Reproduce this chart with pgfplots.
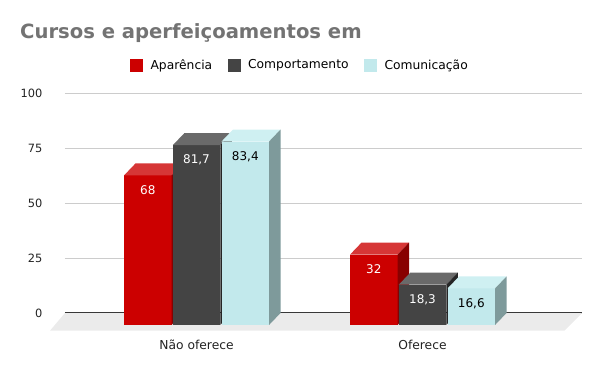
\documentclass[border=0pt]{standalone}
\usepackage{pgfplots}
\pgfplotsset{compat=1.18}
\usepackage{pgfplotstable}
\usepackage{fontspec}
\setmainfont{DejaVu Sans}

\definecolor{redF}{HTML}{CC0000}
\definecolor{redT}{HTML}{D63636}
\definecolor{redS}{HTML}{880000}
\definecolor{grayF}{HTML}{444444}
\definecolor{grayT}{HTML}{6A6A6A}
\definecolor{grayS}{HTML}{262626}
\definecolor{cyanF}{HTML}{C2E9EC}
\definecolor{cyanT}{HTML}{CFF0F2}
\definecolor{cyanS}{HTML}{7E9A9B}
\definecolor{floorgray}{HTML}{EBEBEB}
\definecolor{gridgray}{HTML}{CCCCCC}
\definecolor{titlegray}{HTML}{737373}
\definecolor{textdark}{HTML}{222222}

% #1 name, #2 x offset (pt), #3 front, #4 top, #5 side
\newcommand\defcube[5]{%
  \pgfdeclareplotmark{#1}{%
    \pgfmathsetmacro\hh{\barval*2.2}%
    \pgftransformxshift{#2pt}%
    \pgfsetfillcolor{#3}%
    \pgfpathmoveto{\pgfpoint{-23.75pt}{-12pt}}%
    \pgfpathlineto{\pgfpoint{23.75pt}{-12pt}}%
    \pgfpathlineto{\pgfpoint{23.75pt}{-12pt-\hh pt}}%
    \pgfpathlineto{\pgfpoint{-23.75pt}{-12pt-\hh pt}}%
    \pgfpathclose\pgfusepath{fill}%
    \pgfsetfillcolor{#4}%
    \pgfpathmoveto{\pgfpoint{-23.75pt}{-12pt}}%
    \pgfpathlineto{\pgfpoint{23.75pt}{-12pt}}%
    \pgfpathlineto{\pgfpoint{35.25pt}{0pt}}%
    \pgfpathlineto{\pgfpoint{-12.25pt}{0pt}}%
    \pgfpathclose\pgfusepath{fill}%
    \pgfsetfillcolor{#5}%
    \pgfpathmoveto{\pgfpoint{23.75pt}{-12pt}}%
    \pgfpathlineto{\pgfpoint{35.25pt}{0pt}}%
    \pgfpathlineto{\pgfpoint{35.25pt}{-\hh pt}}%
    \pgfpathlineto{\pgfpoint{23.75pt}{-12pt-\hh pt}}%
    \pgfpathclose\pgfusepath{fill}%
  }}
\defcube{cubered}{-48.7}{redF}{redT}{redS}
\defcube{cubegray}{0}{grayF}{grayT}{grayS}
\defcube{cubecyan}{48.8}{cyanF}{cyanT}{cyanS}

\pgfplotstableread{
x apar comp comu
0 68 81.7 83.4
1 32 18.3 16.6
}\datatable

\begin{document}
\begin{tikzpicture}
\path[use as bounding box] (0,0) rectangle (600pt,371pt);
\begin{axis}[
  at={(65pt,40.3pt)}, anchor=south west,
  scale only axis, width=517pt, height=237.71pt,
  xmin=-0.5819, xmax=1.7058, ymin=-8.05, ymax=100,
  clip=false,
  axis line style={draw=none},
  tick style={draw=none}, major tick length=0pt,
  ytick={0,25,50,75,100},
  ymajorgrids, grid style={gridgray, line width=0.8pt},
  xtick={0,1}, xticklabels={Não oferece, Oferece},
  xticklabel style={anchor=base, yshift=-18.6pt, font=\fontsize{12.3}{14}\selectfont, text=textdark},
  yticklabel style={anchor=east, xshift=-19pt, font=\fontsize{11.4}{13}\selectfont, text=textdark},
  /pgf/number format/assume math mode=true,
  legend columns=3,
  legend style={draw=none, fill=none, at={(0.4545,1.1178)}, anchor=center,
    font=\fontsize{12.3}{14}\selectfont,
    /tikz/every even column/.append style={column sep=13.5pt}},
  scatter/@pre marker code/.code={\pgfscope},
  scatter/@post marker code/.code={\endpgfscope},
  visualization depends on={y \as \barval},
  nodes near coords={\pgfmathprintnumber[use comma]{\pgfplotspointmeta}},
  nodes near coords style={font=\fontsize{12}{14}\selectfont, anchor=center, yshift=-27pt},
]
\fill[floorgray] (axis cs:-0.5819,0) -- (axis cs:1.7058,0)
  -- ([xshift=-17.5pt]axis cs:1.7058,-8.05) -- ([xshift=-15pt]axis cs:-0.5819,-8.05) -- cycle;
\draw[textdark!90, line width=1pt] (axis cs:-0.5819,0) -- (axis cs:1.7058,0);

\addplot[scatter, only marks, mark=cubered,
  nodes near coords style={text=white},
  legend image code/.code={\fill[redF] (0pt,-6pt) rectangle (12pt,6pt); \path (18pt,0pt);}]
  table[x=x, y=apar] {\datatable};
\addlegendentry{Aparência}
\addplot[scatter, only marks, mark=cubegray,
  nodes near coords style={text=white},
  legend image code/.code={\fill[grayF] (0pt,-6pt) rectangle (12pt,6pt); \path (18pt,0pt);}]
  table[x=x, y=comp] {\datatable};
\addlegendentry{Comportamento}
\addplot[scatter, only marks, mark=cubecyan,
  nodes near coords style={text=black},
  legend image code/.code={\fill[cyanF] (0pt,-6pt) rectangle (12pt,6pt); \path (18pt,0pt);}]
  table[x=x, y=comu] {\datatable};
\addlegendentry{Comunicação}
\end{axis}
\node[anchor=base west, inner sep=0pt, text=titlegray, font=\bfseries\fontsize{19.6}{22}\selectfont] at (20pt,332pt) {Cursos e aperfeiçoamentos em};
\end{tikzpicture}
\end{document}
